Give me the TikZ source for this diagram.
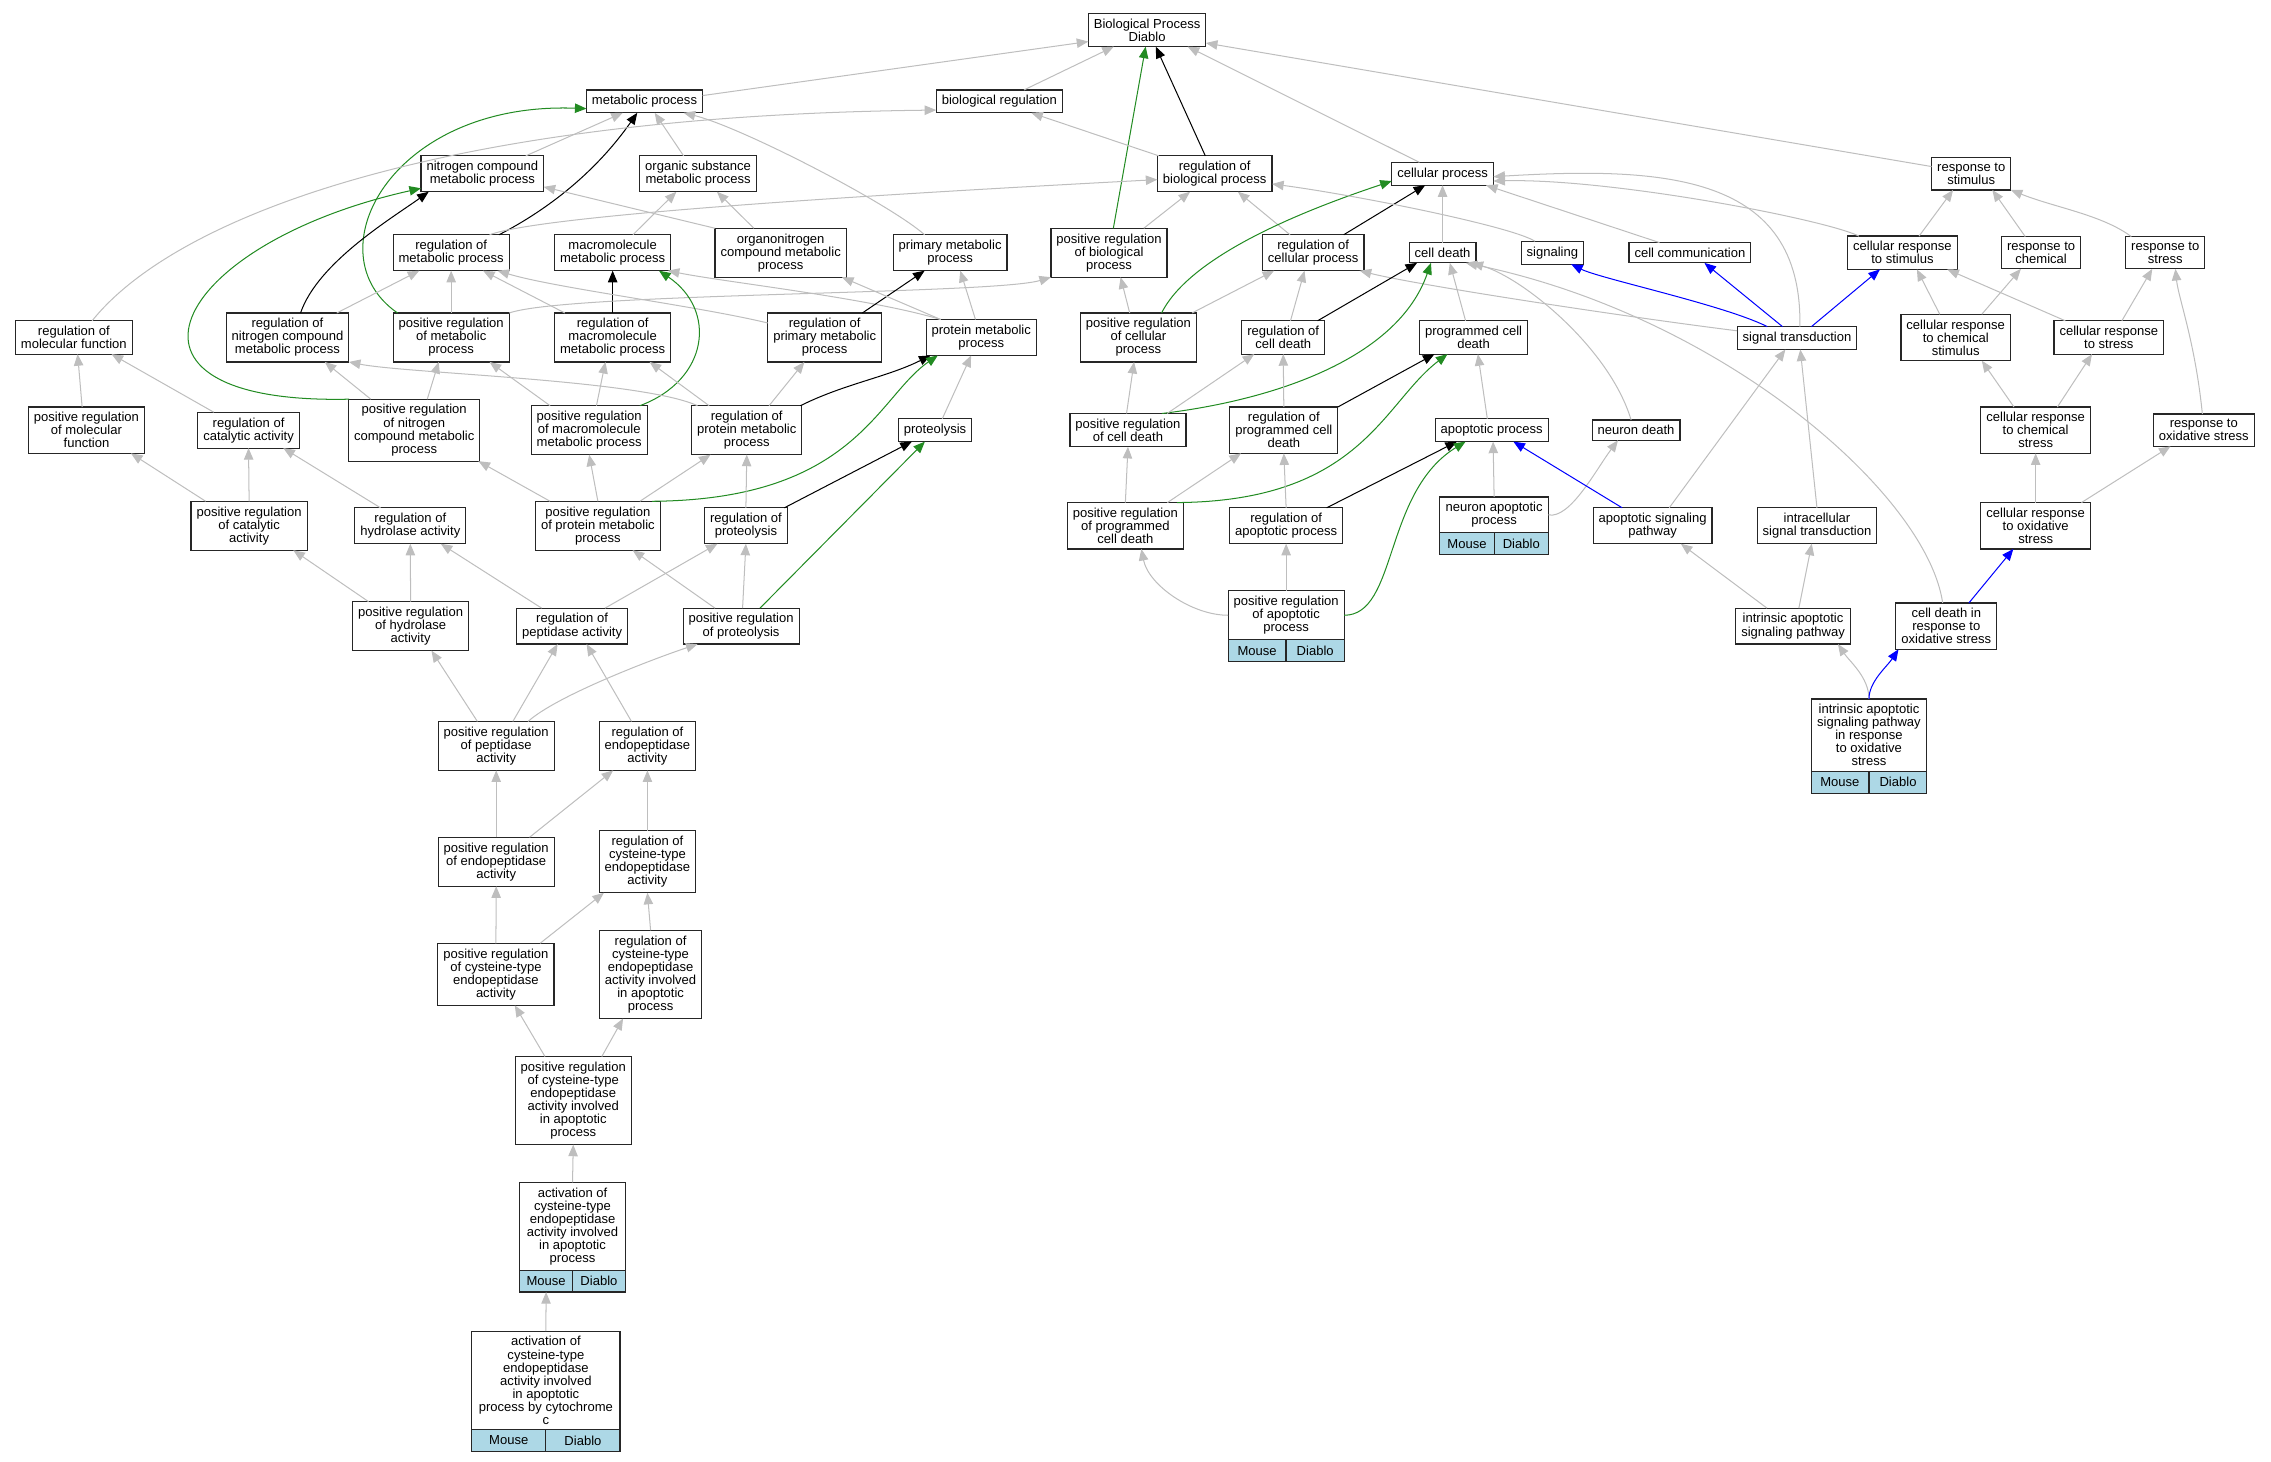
\documentclass[tikz,border=0pt]{standalone}
\usepackage{fontspec}
\setmainfont{Liberation Sans}
\usepackage{tikz}
\usetikzlibrary{arrows.meta}
\definecolor{edgegray}{HTML}{BEBEBE}
\definecolor{posgreen}{HTML}{228B22}
\definecolor{orgblue}{HTML}{ADD8E6}

\begin{document}
\begin{tikzpicture}[x=1pt, y=-1pt]
		\tikzstyle{term}=[rectangle, draw=black!85, line width=0.8pt, fill=white, align=center, font=\fontsize{9}{9}\selectfont, inner xsep=3.8pt, inner ysep=3.7pt, outer sep=0pt]
		\tikzstyle{cell}=[term, fill=orgblue, minimum height=15pt, inner ysep=0pt, inner xsep=0pt]
		\tikzstyle{isa}=[->, >={Triangle[length=8pt, width=6.5pt]}, draw=edgegray, line width=0.7pt]
		\tikzstyle{regl}=[isa, draw=black]
		\tikzstyle{posreg}=[isa, draw=posgreen]
		\tikzstyle{partof}=[isa, draw=blue]

		\useasboundingbox (0,0) rectangle (1568,1009);

		\node[term] (bpd) at (792,20.7) {Biological Process\\Diablo};
		\node[term] (mp) at (445,70) {metabolic process};
		\node[term] (br) at (690,70) {biological regulation};
		\node[term] (ncmp) at (333,120) {nitrogen compound\\metabolic process};
		\node[term] (osmp) at (482,120) {organic substance\\metabolic process};
		\node[term] (rbp) at (838.7,120) {regulation of\\biological process};
		\node[term] (cp) at (996,120) {cellular process};
		\node[term] (rs) at (1361,120) {response to\\stimulus};
		\node[term] (rmp) at (311.5,174.5) {regulation of\\metabolic process};
		\node[term] (mmp) at (423,174.5) {macromolecule\\metabolic process};
		\node[term] (oncmp) at (539,174.5) {organonitrogen\\compound metabolic\\process};
		\node[term] (pmp) at (656,174.5) {primary metabolic\\process};
		\node[term] (prbp) at (765.7,174.5) {positive regulation\\of biological\\process};
		\node[term] (rcp) at (906.7,174.5) {regulation of\\cellular process};
		\node[term] (cd) at (996,174.5) {cell death};
		\node[term] (sig) at (1071.8,174.5) {signaling};
		\node[term] (cc) at (1166.8,174.5) {cell communication};
		\node[term] (crs) at (1313.5,174.5) {cellular response\\to stimulus};
		\node[term] (rc) at (1409.3,174.5) {response to\\chemical};
		\node[term] (rst) at (1495,174.5) {response to\\stress};
		\node[term] (rmf) at (51,233) {regulation of\\molecular function};
		\node[term] (rncmp) at (198.5,233) {regulation of\\nitrogen compound\\metabolic process};
		\node[term] (prmp) at (311.5,233) {positive regulation\\of metabolic\\process};
		\node[term] (rmmp) at (423,233) {regulation of\\macromolecule\\metabolic process};
		\node[term] (rpmp) at (569.4,233) {regulation of\\primary metabolic\\process};
		\node[term] (protmp) at (677.5,233) {protein metabolic\\process};
		\node[term] (prcp) at (786,233) {positive regulation\\of cellular\\process};
		\node[term] (rcd) at (886,233) {regulation of\\cell death};
		\node[term] (pcd) at (1017.4,233) {programmed cell\\death};
		\node[term] (st) at (1240.7,233.4) {signal transduction};
		\node[term] (crcs) at (1350.3,233) {cellular response\\to chemical\\stimulus};
		\node[term] (crst) at (1456,233) {cellular response\\to stress};
		\node[term] (prmf) at (59.7,297) {positive regulation\\of molecular\\function};
		\node[term] (rca) at (171.6,297) {regulation of\\catalytic activity};
		\node[term] (prncmp) at (286,297) {positive regulation\\of nitrogen\\compound metabolic\\process};
		\node[term] (prmmp) at (406.8,297) {positive regulation\\of macromolecule\\metabolic process};
		\node[term] (rprmp) at (515.6,297) {regulation of\\protein metabolic\\process};
		\node[term] (prot) at (645.6,297) {proteolysis};
		\node[term] (prcd) at (778.8,297) {positive regulation\\of cell death};
		\node[term] (rpcd) at (886.4,297) {regulation of\\programmed cell\\death};
		\node[term] (ap) at (1029.9,297) {apoptotic process};
		\node[term] (nd) at (1129.6,297) {neuron death};
		\node[term] (crcst) at (1405.5,297) {cellular response\\to chemical\\stress};
		\node[term] (ros) at (1521.6,297) {response to\\oxidative stress};
		\node[term] (prca) at (172,363) {positive regulation\\of catalytic\\activity};
		\node[term] (rha) at (283.3,363) {regulation of\\hydrolase activity};
		\node[term] (prprmp) at (412.8,363) {positive regulation\\of protein metabolic\\process};
		\node[term] (rprot) at (515,363) {regulation of\\proteolysis};
		\node[term] (prpcd) at (777,363) {positive regulation\\of programmed\\cell death};
		\node[term] (rap) at (888,363) {regulation of\\apoptotic process};
		\node[term, minimum width=75pt] (nap) at (1031.6,355.5) {neuron apoptotic\\process};
		\node[cell, minimum width=37.5pt, anchor=north west] (napm) at (nap.south west) {Mouse};
		\node[cell, minimum width=37.5pt, anchor=north east] (napd) at (nap.south east) {Diablo};
		\node[term] (asp) at (1141,363) {apoptotic signaling\\pathway};
		\node[term] (ist) at (1254.5,363) {intracellular\\signal transduction};
		\node[term] (crost) at (1405.5,363) {cellular response\\to oxidative\\stress};
		\node[term] (prha) at (283.5,432.3) {positive regulation\\of hydrolase\\activity};
		\node[term] (rpa) at (395,432.3) {regulation of\\peptidase activity};
		\node[term] (prprot) at (511.7,432.3) {positive regulation\\of proteolysis};
		\node[term, minimum width=80pt] (prap) at (888,424.8) {positive regulation\\of apoptotic\\process};
		\node[cell, minimum width=40pt, anchor=north west] (prapm) at (prap.south west) {Mouse};
		\node[cell, minimum width=40pt, anchor=north east] (prapd) at (prap.south east) {Diablo};
		\node[term] (iasp) at (1238,432.3) {intrinsic apoptotic\\signaling pathway};
		\node[term] (cdros) at (1343.8,432.3) {cell death in\\response to\\oxidative stress};
		\node[term, minimum width=78pt] (iaspros) at (1290.4,507.6) {intrinsic apoptotic\\signaling pathway\\in response\\to oxidative\\stress};
		\node[cell, minimum width=39pt, anchor=north west] (iasprosm) at (iaspros.south west) {Mouse};
		\node[cell, minimum width=39pt, anchor=north east] (iasprosd) at (iaspros.south east) {Diablo};
		\node[term] (prpa) at (342.6,515) {positive regulation\\of peptidase\\activity};
		\node[term] (rea) at (447,515) {regulation of\\endopeptidase\\activity};
		\node[term] (prea) at (342.6,595) {positive regulation\\of endopeptidase\\activity};
		\node[term] (rctea) at (447,595) {regulation of\\cysteine-type\\endopeptidase\\activity};
		\node[term] (prctea) at (342.4,672.7) {positive regulation\\of cysteine-type\\endopeptidase\\activity};
		\node[term] (rcteaap) at (449.2,672.8) {regulation of\\cysteine-type\\endopeptidase\\activity involved\\in apoptotic\\process};
		\node[term] (prcteaap) at (395.8,759.9) {positive regulation\\of cysteine-type\\endopeptidase\\activity involved\\in apoptotic\\process};
		\node[term, minimum width=73pt] (acteaap) at (395.3,846.7) {activation of\\cysteine-type\\endopeptidase\\activity involved\\in apoptotic\\process};
		\node[cell, minimum width=36.5pt, anchor=north west] (acteaapm) at (acteaap.south west) {Mouse};
		\node[cell, minimum width=36.5pt, anchor=north east] (acteaapd) at (acteaap.south east) {Diablo};
		\node[term, minimum width=102.4pt] (acteaapc) at (376.9,953.1) {activation of\\cysteine-type\\endopeptidase\\activity involved\\in apoptotic\\process by cytochrome\\c};
		\node[cell, minimum width=51.2pt, anchor=north west] (acteaapcm) at (acteaapc.south west) {Mouse};
		\node[cell, minimum width=51.2pt, anchor=north east] (acteaapcd) at (acteaapc.south east) {Diablo};

		\draw[isa] ([yshift=4]mp.east) -- ([yshift=-8]bpd.west);
		\draw[isa] ([xshift=17]br.north) -- ([xshift=-23]bpd.south);
		\draw[regl] ([xshift=-6.5]rbp.north) -- ([xshift=6]bpd.south);
		\draw[posreg] ([xshift=3]prbp.north) -- ([xshift=-1]bpd.south);
		\draw[isa] ([xshift=-16]cp.north) -- ([xshift=28]bpd.south);
		\draw[isa] ([yshift=5]rs.west) -- ([yshift=-9]bpd.east);

		\draw[isa] ([xshift=-10]osmp.north) -- ([xshift=7]mp.south);
		\draw[isa] ([xshift=30]ncmp.north) -- ([xshift=-15]mp.south);
		\draw[regl] ([xshift=33]rmp.north) .. controls +(35,-18) and +(-28,40) .. ([xshift=-5]mp.south);
		\draw[posreg] ([xshift=-37]prmp.north) .. controls +(-59.5,-41) and +(-135,-5) .. ([yshift=-5]mp.west);
		\draw[isa] ([xshift=-17.6]pmp.north) .. controls +(-25,-22) and +(40,10) .. ([xshift=27]mp.south);
		\draw[isa] ([xshift=12.6]rmf.north) .. controls +(56.4,-70.5) and +(-347,4) .. ([yshift=-6]br.west);
		\draw[isa] ([xshift=1]rbp.north west) -- ([xshift=22]br.south);
		\draw[isa] ([xshift=-18.5]oncmp.north) -- ([xshift=13]osmp.south);
		\draw[isa] (oncmp.north west) -- ([yshift=-9]ncmp.east);
		\draw[isa] ([xshift=14]mmp.north) -- ([xshift=-15]osmp.south);
		\draw[isa] ([xshift=26.5]rmp.north) .. controls +(40,-15) and +(-150,8) .. ([yshift=-4]rbp.west);
		\draw[regl] ([xshift=9]rncmp.north) .. controls +(12,-35) and +(-25,18) .. ([xshift=-37]ncmp.south);
		\draw[posreg] ([xshift=-45]prncmp.north) .. controls +(-181,4) and +(-172,38.3) .. ([yshift=-10]ncmp.west);
		\draw[isa] ([xshift=34]rncmp.north) -- ([xshift=-22]rmp.south);
		\draw[isa] (prmp.north) -- (rmp.south);
		\draw[isa] ([xshift=-33]rmmp.north) -- ([xshift=22]rmp.south);
		\draw[regl] (rmmp.north) -- (mmp.south);
		\draw[isa] (prmp.north east) .. controls +(40,-14) and +(-40,12) .. (prbp.south west);
		\draw[isa] ([yshift=10]rpmp.west) .. controls +(-50,-12) and +(40,12) .. ([xshift=32]rmp.south);
		\draw[posreg] ([xshift=35]prmmp.north) .. controls +(48,-18) and +(40,27) .. ([xshift=32]mmp.south);
		\draw[isa] ([xshift=-28]protmp.north) .. controls +(-50,-15) and +(40,8) .. ([xshift=-2]mmp.south east);
		\draw[isa] ([xshift=-4]protmp.north) -- ([xshift=7]pmp.south);
		\draw[regl] ([xshift=26]rpmp.north) -- ([xshift=-17.6]pmp.south);
		\draw[isa] ([xshift=-28]protmp.north) -- ([xshift=-3]oncmp.south east);
		\draw[isa] ([xshift=24]prbp.north) -- ([xshift=-17]rbp.south);
		\draw[isa] ([xshift=-16]rcp.north) -- ([xshift=16]rbp.south);
		\draw[regl] ([xshift=21]rcp.north) -- ([xshift=-12]cp.south);
		\draw[isa] (cd.north) -- (cp.south);
		\draw[posreg] ([xshift=16]prcp.north) .. controls +(20,-40) and +(-60,20) .. ([yshift=-5]cp.west);
		\draw[isa] ([xshift=-12]sig.north) .. controls +(-15,-10) and +(60,8) .. ([yshift=-7]rbp.east);
		\draw[isa] ([xshift=-21]cc.north) -- ([xshift=30]cp.south);
		\draw[isa] ([xshift=2]st.north) .. controls +(2,-105.6) and +(118,-7) .. ([yshift=-2]cp.east);
		\draw[isa] ([xshift=-30]crs.north) .. controls +(-25,-12) and +(80,-2) .. ([yshift=-5]cp.east);
		\draw[isa] ([xshift=11.5]crs.north) -- ([xshift=-12.5]rs.south);
		\draw[isa] ([xshift=-11]rc.north) -- ([xshift=14.6]rs.south);
		\draw[isa] ([xshift=-23.5]rst.north) .. controls +(-20,-15) and +(30,12) .. (rs.south east);
		\draw[isa] ([xshift=-11]crcs.north) -- ([xshift=10]crs.south);
		\draw[isa] ([xshift=18]crcs.north) -- ([xshift=-14]rc.south);
		\draw[isa] ([xshift=-30]crst.north) -- ([xshift=31]crs.south);
		\draw[isa] ([xshift=9]crst.north) -- ([xshift=-9]rst.south);
		\draw[isa] ([xshift=-15]crcst.north) -- ([xshift=18]crcs.south);
		\draw[isa] ([xshift=15]crcst.north) -- ([xshift=-11.6]crst.south);
		\draw[isa] ([xshift=-1]ros.north) .. controls +(-5,-50) and +(2,20) .. ([xshift=7]rst.south);
		\draw[partof] ([xshift=-20.5]st.north) .. controls +(-30,-15) and +(20,10) .. ([xshift=13]sig.south);
		\draw[partof] ([xshift=-10]st.north) -- ([xshift=10]cc.south);
		\draw[partof] ([xshift=10]st.north) -- ([xshift=-15.5]crs.south);
		\draw[isa] ([yshift=5]st.west) .. controls +(-80,-10) and +(40,10) .. ([xshift=-3]rcp.south east);

		\draw[isa] ([xshift=-5.5]pcd.north) -- ([xshift=5]cd.south);
		\draw[regl] ([xshift=23.7]rcd.north) -- ([xshift=-17.6]cd.south);
		\draw[posreg] ([xshift=23.4]prcd.north) .. controls +(77.8,-9.3) and +(-23,66) .. ([xshift=-8]cd.south);
		\draw[isa] ([xshift=-3.4]nd.north) .. controls +(-15,-50) and +(35,10) .. ([xshift=20]cd.south);
		\draw[isa] ([xshift=-2.5]cdros.north) .. controls +(-11,-75) and +(178,37) .. ([xshift=16]cd.south);
		\draw[isa] ([xshift=37]prcp.north) -- ([xshift=-27]rcp.south);
		\draw[isa] ([xshift=5]rcd.north) -- ([xshift=-6]rcp.south);
		\draw[isa] ([xshift=-6]prcp.north) -- ([xshift=8]prbp.south);
		\draw[regl] ([xshift=-1]rprmp.north east) .. controls +(30,-15) and +(-30,15) .. ([xshift=-35]protmp.south);
		\draw[posreg] ([xshift=37.4]prprmp.north) .. controls +(140,-1) and +(-42,29) .. ([xshift=-30]protmp.south);
		\draw[isa] ([xshift=5]prot.north) -- ([xshift=-7]protmp.south);
		\draw[regl] ([xshift=-2]rprot.north east) -- ([xshift=-16]prot.south);
		\draw[posreg] ([xshift=13]prprot.north) -- ([xshift=-7]prot.south);
		\draw[isa] (rprot.north) -- (rprmp.south);
		\draw[isa] ([xshift=1]prprot.north) -- (rprot.south);
		\draw[isa] ([xshift=-18]prprot.north) -- ([xshift=24]prprmp.south);
		\draw[isa] ([xshift=22.7]rpa.north) -- ([xshift=-19.6]rprot.south);
		\draw[isa] ([xshift=15.4]rprmp.north) -- ([xshift=-14]rpmp.south);
		\draw[isa] ([xshift=-26]rprmp.north) -- ([xshift=25.5]rmmp.south);
		\draw[isa] ([xshift=29]prprmp.north) -- ([xshift=-25]rprmp.south);
		\draw[isa] (prprmp.north) -- (prmmp.south);
		\draw[isa] ([xshift=-33]prprmp.north) -- ([xshift=-1]prncmp.south east);
		\draw[isa] ([xshift=5]prmmp.north) -- ([xshift=-5]rmmp.south);
		\draw[isa] ([xshift=-27]prmmp.north) -- ([xshift=26.5]prmp.south);
		\draw[isa] ([xshift=-30]prncmp.north) -- ([xshift=25.7]rncmp.south);
		\draw[isa] ([xshift=9]prncmp.north) -- ([xshift=-8.6]prmp.south);
		\draw[isa] ([xshift=-34]rprmp.north) .. controls +(-40,-18) and +(40,8) .. (rncmp.south east);

		\draw[isa] ([xshift=-3]prmf.north) -- ([xshift=2.6]rmf.south);
		\draw[isa] ([xshift=-24]rca.north) -- ([xshift=26]rmf.south);
		\draw[isa] ([xshift=-30]prca.north) -- ([xshift=30.7]prmf.south);
		\draw[isa] (prca.north) -- (rca.south);
		\draw[isa] ([xshift=-20.6]rha.north) -- ([xshift=24]rca.south);
		\draw[isa] ([xshift=-29]prha.north) -- ([xshift=30.5]prca.south);
		\draw[isa] (prha.north) -- (rha.south);
		\draw[isa] ([xshift=-21]rpa.north) -- ([xshift=21]rha.south);
		\draw[isa] ([xshift=-13]prpa.north) -- ([xshift=14.4]prha.south);
		\draw[isa] ([xshift=11.5]prpa.north) -- ([xshift=-10]rpa.south);
		\draw[isa] ([xshift=22]prpa.north) .. controls +(20,-18) and +(-30,10) .. ([xshift=-30]prprot.south);
		\draw[isa] ([xshift=-11]rea.north) -- ([xshift=10]rpa.south);
		\draw[isa] (prea.north) -- (prpa.south);
		\draw[isa] ([xshift=23]prea.north) -- ([xshift=-23.6]rea.south);
		\draw[isa] (rctea.north) -- (rea.south);
		\draw[isa] (prctea.north) -- (prea.south);
		\draw[isa] ([xshift=30.5]prctea.north) -- ([xshift=-30]rctea.south);
		\draw[isa] (rcteaap.north) -- (rctea.south);
		\draw[isa] ([xshift=-19.5]prcteaap.north) -- ([xshift=13]prctea.south);
		\draw[isa] ([xshift=19.7]prcteaap.north) -- ([xshift=-19]rcteaap.south);
		\draw[isa] (acteaap.north) -- (prcteaap.south);
		\draw[isa] (acteaapc.north) -- (acteaapm.south);

		\draw[regl] (rpcd.north east) -- ([xshift=-27]pcd.south);
		\draw[posreg] ([xshift=35.8]prpcd.north) .. controls +(127,-1) and +(-44.5,33.7) .. ([xshift=-18]pcd.south);
		\draw[isa] ([xshift=-3]ap.north) -- ([xshift=3]pcd.south);
		\draw[isa] (rpcd.north) -- (rcd.south);
		\draw[isa] ([xshift=27]prcd.north) -- ([xshift=-20]rcd.south);
		\draw[isa] ([xshift=-1]prcd.north) -- ([xshift=-3]prcp.south);
		\draw[isa] (prpcd.north) -- (prcd.south);
		\draw[isa] ([xshift=29]prpcd.north) -- ([xshift=-29.6]rpcd.south);
		\draw[isa] (rap.north) -- (rpcd.south);
		\draw[regl] ([xshift=28]rap.north) -- ([xshift=-24]ap.south);
		\draw[posreg] (prap.east) .. controls +(37,0) and +(-57,35) .. ([xshift=-18]ap.south);
		\draw[isa] (prap.west) .. controls +(-25,0) and +(5,25) .. ([xshift=11]prpcd.south);
		\draw[isa] (prap.north) -- (rap.south);
		\draw[isa] (nap.north) -- ([xshift=1]ap.south);
		\draw[isa] (nap.east) .. controls +(15,3) and +(-15,20) .. ([xshift=-12.5]nd.south);
		\draw[partof] ([xshift=-21]asp.north) -- ([xshift=15]ap.south);
		\draw[isa] ([xshift=11.5]asp.north) -- ([xshift=-8]st.south);
		\draw[isa] (ist.north) -- ([xshift=2.3]st.south);
		\draw[isa] ([xshift=-18]iasp.north) -- ([xshift=19.5]asp.south);
		\draw[isa] ([xshift=4]iasp.north) -- ([xshift=-3.6]ist.south);
		\draw[isa] (iaspros.north) .. controls +(0,-15) and +(8,12) .. ([xshift=31]iasp.south);
		\draw[partof] (iaspros.north) .. controls +(0,-12) and +(-8,12) .. ([xshift=-33]cdros.south);
		\draw[partof] ([xshift=15.6]cdros.north) -- ([xshift=-15.4]crost.south);
		\draw[isa] (crost.north) -- (crcst.south);
		\draw[isa] ([xshift=31.6]crost.north) -- ([xshift=-23]ros.south);

	\end{tikzpicture}
\end{document}
